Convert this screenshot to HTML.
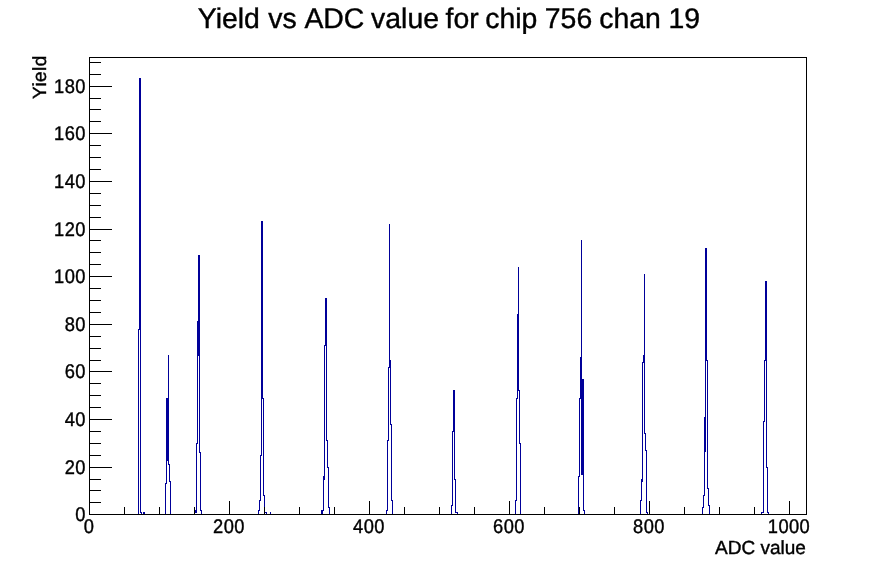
<!DOCTYPE html>
<html><head><meta charset="utf-8"><title>Yield vs ADC value for chip 756 chan 19</title>
<style>
html,body{margin:0;padding:0;background:#fff;overflow:hidden}
svg{display:block}
text{font-family:"Liberation Sans",sans-serif;fill:#000;stroke:#000;stroke-width:0.4px;text-rendering:geometricPrecision}
</style></head><body>
<svg width="896" height="572" viewBox="0 0 896 572">
<rect x="0" y="0" width="896" height="572" fill="#fff"/>
<g shape-rendering="crispEdges">
<g fill="#000099">
<rect x="138" y="329" width="1" height="186"/>
<rect x="139" y="78" width="1" height="252"/>
<rect x="140" y="78" width="1" height="435"/>
<rect x="141" y="512" width="1" height="3"/>
<rect x="143" y="512" width="1" height="3"/>
<rect x="144" y="512" width="1" height="3"/>
<rect x="165" y="483" width="1" height="32"/>
<rect x="166" y="398" width="1" height="86"/>
<rect x="167" y="398" width="1" height="63"/>
<rect x="168" y="355" width="1" height="110"/>
<rect x="169" y="464" width="1" height="18"/>
<rect x="170" y="481" width="1" height="34"/>
<rect x="194" y="512" width="1" height="3"/>
<rect x="195" y="510" width="1" height="3"/>
<rect x="196" y="443" width="1" height="70"/>
<rect x="197" y="321" width="1" height="123"/>
<rect x="198" y="255" width="1" height="101"/>
<rect x="199" y="255" width="1" height="198"/>
<rect x="200" y="452" width="1" height="59"/>
<rect x="201" y="510" width="1" height="5"/>
<rect x="258" y="510" width="1" height="5"/>
<rect x="259" y="500" width="1" height="11"/>
<rect x="260" y="455" width="1" height="46"/>
<rect x="261" y="221" width="1" height="235"/>
<rect x="262" y="221" width="1" height="178"/>
<rect x="263" y="398" width="1" height="98"/>
<rect x="264" y="495" width="1" height="18"/>
<rect x="265" y="512" width="1" height="1"/>
<rect x="266" y="512" width="1" height="3"/>
<rect x="270" y="512" width="1" height="3"/>
<rect x="321" y="510" width="1" height="5"/>
<rect x="322" y="510" width="1" height="5"/>
<rect x="323" y="476" width="1" height="35"/>
<rect x="324" y="345" width="1" height="135"/>
<rect x="325" y="298" width="1" height="48"/>
<rect x="326" y="298" width="1" height="143"/>
<rect x="327" y="440" width="1" height="28"/>
<rect x="328" y="467" width="1" height="41"/>
<rect x="329" y="507" width="1" height="8"/>
<rect x="386" y="510" width="1" height="5"/>
<rect x="387" y="440" width="1" height="71"/>
<rect x="388" y="367" width="1" height="74"/>
<rect x="389" y="224" width="1" height="144"/>
<rect x="390" y="360" width="1" height="65"/>
<rect x="391" y="424" width="1" height="77"/>
<rect x="392" y="500" width="1" height="15"/>
<rect x="451" y="505" width="1" height="10"/>
<rect x="452" y="431" width="1" height="75"/>
<rect x="453" y="390" width="1" height="42"/>
<rect x="454" y="390" width="1" height="90"/>
<rect x="455" y="479" width="1" height="34"/>
<rect x="456" y="512" width="1" height="1"/>
<rect x="457" y="512" width="1" height="3"/>
<rect x="515" y="500" width="1" height="15"/>
<rect x="516" y="398" width="1" height="103"/>
<rect x="517" y="314" width="1" height="85"/>
<rect x="518" y="267" width="1" height="124"/>
<rect x="519" y="390" width="1" height="54"/>
<rect x="520" y="443" width="1" height="72"/>
<rect x="578" y="476" width="1" height="39"/>
<rect x="579" y="398" width="1" height="79"/>
<rect x="580" y="357" width="1" height="42"/>
<rect x="581" y="240" width="1" height="235"/>
<rect x="582" y="379" width="1" height="96"/>
<rect x="583" y="379" width="1" height="132"/>
<rect x="584" y="510" width="1" height="5"/>
<rect x="640" y="500" width="1" height="15"/>
<rect x="641" y="479" width="1" height="22"/>
<rect x="642" y="362" width="1" height="120"/>
<rect x="643" y="355" width="1" height="8"/>
<rect x="644" y="274" width="1" height="160"/>
<rect x="645" y="433" width="1" height="18"/>
<rect x="646" y="450" width="1" height="63"/>
<rect x="647" y="512" width="1" height="3"/>
<rect x="702" y="507" width="1" height="8"/>
<rect x="703" y="495" width="1" height="13"/>
<rect x="704" y="417" width="1" height="79"/>
<rect x="705" y="248" width="1" height="204"/>
<rect x="706" y="248" width="1" height="113"/>
<rect x="707" y="360" width="1" height="129"/>
<rect x="708" y="488" width="1" height="18"/>
<rect x="709" y="505" width="1" height="10"/>
<rect x="761" y="512" width="1" height="3"/>
<rect x="762" y="512" width="1" height="1"/>
<rect x="763" y="421" width="1" height="92"/>
<rect x="764" y="360" width="1" height="62"/>
<rect x="765" y="281" width="1" height="80"/>
<rect x="766" y="281" width="1" height="187"/>
<rect x="767" y="467" width="1" height="46"/>
<rect x="768" y="512" width="1" height="3"/>
</g>
<g fill="#000">
<rect x="89" y="57" width="718" height="1"/>
<rect x="89" y="514" width="718" height="1"/>
<rect x="89" y="57" width="1" height="458"/>
<rect x="806" y="57" width="1" height="458"/>
<rect x="124" y="507" width="1" height="8"/>
<rect x="159" y="507" width="1" height="8"/>
<rect x="194" y="507" width="1" height="8"/>
<rect x="229" y="501" width="1" height="14"/>
<rect x="264" y="507" width="1" height="8"/>
<rect x="299" y="507" width="1" height="8"/>
<rect x="334" y="507" width="1" height="8"/>
<rect x="369" y="501" width="1" height="14"/>
<rect x="404" y="507" width="1" height="8"/>
<rect x="439" y="507" width="1" height="8"/>
<rect x="474" y="507" width="1" height="8"/>
<rect x="509" y="501" width="1" height="14"/>
<rect x="544" y="507" width="1" height="8"/>
<rect x="579" y="507" width="1" height="8"/>
<rect x="614" y="507" width="1" height="8"/>
<rect x="649" y="501" width="1" height="14"/>
<rect x="684" y="507" width="1" height="8"/>
<rect x="719" y="507" width="1" height="8"/>
<rect x="754" y="507" width="1" height="8"/>
<rect x="789" y="501" width="1" height="14"/>
<rect x="89" y="502" width="12" height="1"/>
<rect x="89" y="490" width="12" height="1"/>
<rect x="89" y="479" width="12" height="1"/>
<rect x="89" y="467" width="23" height="1"/>
<rect x="89" y="455" width="12" height="1"/>
<rect x="89" y="443" width="12" height="1"/>
<rect x="89" y="431" width="12" height="1"/>
<rect x="89" y="419" width="23" height="1"/>
<rect x="89" y="407" width="12" height="1"/>
<rect x="89" y="395" width="12" height="1"/>
<rect x="89" y="383" width="12" height="1"/>
<rect x="89" y="371" width="23" height="1"/>
<rect x="89" y="360" width="12" height="1"/>
<rect x="89" y="348" width="12" height="1"/>
<rect x="89" y="336" width="12" height="1"/>
<rect x="89" y="324" width="23" height="1"/>
<rect x="89" y="312" width="12" height="1"/>
<rect x="89" y="300" width="12" height="1"/>
<rect x="89" y="288" width="12" height="1"/>
<rect x="89" y="276" width="23" height="1"/>
<rect x="89" y="264" width="12" height="1"/>
<rect x="89" y="252" width="12" height="1"/>
<rect x="89" y="240" width="12" height="1"/>
<rect x="89" y="229" width="23" height="1"/>
<rect x="89" y="217" width="12" height="1"/>
<rect x="89" y="205" width="12" height="1"/>
<rect x="89" y="193" width="12" height="1"/>
<rect x="89" y="181" width="23" height="1"/>
<rect x="89" y="169" width="12" height="1"/>
<rect x="89" y="157" width="12" height="1"/>
<rect x="89" y="145" width="12" height="1"/>
<rect x="89" y="133" width="23" height="1"/>
<rect x="89" y="121" width="12" height="1"/>
<rect x="89" y="109" width="12" height="1"/>
<rect x="89" y="98" width="12" height="1"/>
<rect x="89" y="86" width="23" height="1"/>
<rect x="89" y="74" width="12" height="1"/>
<rect x="89" y="62" width="12" height="1"/>
</g>
</g>
<g>
<text transform="scale(1.0,1)" y="27.9" font-size="28.4" style="white-space:pre"><tspan x="197.80">Yield </tspan><tspan x="268.20">vs </tspan><tspan x="304.40">ADC </tspan><tspan x="371.10">value </tspan><tspan x="445.60">for </tspan><tspan x="485.30">chip </tspan><tspan x="544.80">756 </tspan><tspan x="599.20">chan </tspan><tspan x="668.40">19</tspan></text>
<text transform="translate(89.00,533.30) scale(0.925,1)" font-size="19.8" text-anchor="middle" letter-spacing="0.45">0</text>
<text transform="translate(229.00,533.30) scale(0.925,1)" font-size="19.8" text-anchor="middle" letter-spacing="0.45">200</text>
<text transform="translate(369.00,533.30) scale(0.925,1)" font-size="19.8" text-anchor="middle" letter-spacing="0.45">400</text>
<text transform="translate(509.00,533.30) scale(0.925,1)" font-size="19.8" text-anchor="middle" letter-spacing="0.45">600</text>
<text transform="translate(649.00,533.30) scale(0.925,1)" font-size="19.8" text-anchor="middle" letter-spacing="0.45">800</text>
<text transform="translate(789.00,533.30) scale(0.925,1)" font-size="19.8" text-anchor="middle" letter-spacing="0.45">1000</text>
<text transform="translate(85.82,520.95) scale(0.925,1)" font-size="19.8" text-anchor="end" letter-spacing="0.45">0</text>
<text transform="translate(85.82,473.95) scale(0.925,1)" font-size="19.8" text-anchor="end" letter-spacing="0.45">20</text>
<text transform="translate(85.82,425.95) scale(0.925,1)" font-size="19.8" text-anchor="end" letter-spacing="0.45">40</text>
<text transform="translate(85.82,377.95) scale(0.925,1)" font-size="19.8" text-anchor="end" letter-spacing="0.45">60</text>
<text transform="translate(85.82,330.95) scale(0.925,1)" font-size="19.8" text-anchor="end" letter-spacing="0.45">80</text>
<text transform="translate(85.82,282.95) scale(0.925,1)" font-size="19.8" text-anchor="end" letter-spacing="0.45">100</text>
<text transform="translate(85.82,235.95) scale(0.925,1)" font-size="19.8" text-anchor="end" letter-spacing="0.45">120</text>
<text transform="translate(85.82,187.95) scale(0.925,1)" font-size="19.8" text-anchor="end" letter-spacing="0.45">140</text>
<text transform="translate(85.82,139.95) scale(0.925,1)" font-size="19.8" text-anchor="end" letter-spacing="0.45">160</text>
<text transform="translate(85.82,92.95) scale(0.925,1)" font-size="19.8" text-anchor="end" letter-spacing="0.45">180</text>
<text transform="translate(805.90,553.60)" font-size="19.0" text-anchor="end">ADC value</text>
<text transform="translate(46.3,99.0) rotate(-90)" font-size="19.0" letter-spacing="0.45">Yield</text>
</g>
</svg>
</body></html>
